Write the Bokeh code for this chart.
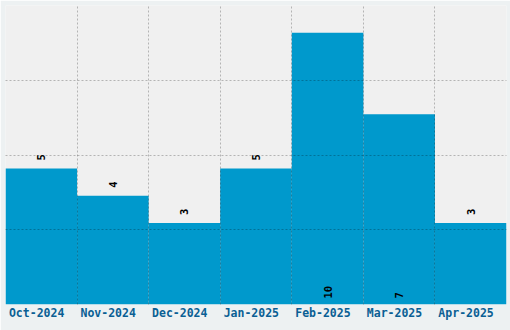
from math import pi
from bokeh.plotting import figure
from bokeh.models import ColumnDataSource, FixedTicker, Range1d
from bokeh.core.properties import value
from bokeh.embed import file_html
from bokeh.resources import INLINE

months = ["Oct-2024", "Nov-2024", "Dec-2024", "Jan-2025", "Feb-2025", "Mar-2025", "Apr-2025"]
counts = [5, 4, 3, 5, 10, 7, 3]
y_max = 11
y_ticks = [0, 2.75, 5.5, 8.25, 11]

n = len(months)
xs = list(range(n))
inside = [c >= 0.6 * max(counts) for c in counts]
src = ColumnDataSource(dict(
    left=[i for i in xs],
    right=[i + 1 for i in xs],
    top=counts,
    bottom=[0] * n,
    xc=[i + 0.5 for i in xs],
    ly=[0 if ins else c for c, ins in zip(counts, inside)],
    loff=[-6 if ins else -8 for ins in inside],
    lbl=[str(c) for c in counts],
))

p = figure(width=510, height=330, output_backend="svg", toolbar_location=None,
           x_range=Range1d(0, n), y_range=Range1d(0, y_max),
           y_axis_location=None,
           min_border_left=5, min_border_right=4, min_border_top=5, min_border_bottom=26)
p.background_fill_color = "#f0f0f0"
p.border_fill_color = "#edf1f2"
p.outline_line_color = None

p.quad(left="left", right="right", top="top", bottom="bottom", source=src,
       fill_color="#0099cc", line_color=None)

p.text(x="xc", y="ly", text="lbl", source=src, angle=pi / 2, y_offset="loff",
       text_align="left", text_baseline="middle", text_color="black",
       text_font=value("DejaVu Sans Mono"), text_font_style="bold", text_font_size="10.5px")

shift = 0.065
p.xaxis.ticker = FixedTicker(ticks=[i + 0.5 - shift for i in xs])
p.xaxis.major_label_overrides = {i + 0.5 - shift: m for i, m in enumerate(months)}
p.xaxis.axis_line_color = None
p.xaxis.major_tick_line_color = None
p.xaxis.minor_tick_line_color = None
p.xaxis.major_tick_in = 0
p.xaxis.major_tick_out = 0
p.xaxis.major_label_standoff = 1
p.xaxis.major_label_text_font = "DejaVu Sans Mono"
p.xaxis.major_label_text_font_style = "bold"
p.xaxis.major_label_text_font_size = "11.5px"
p.xaxis.major_label_text_color = "#0a5f94"

p.xgrid.ticker = FixedTicker(ticks=list(range(1, n)))
p.ygrid.ticker = FixedTicker(ticks=y_ticks)
for g in (p.xgrid, p.ygrid):
    g.grid_line_color = "black"
    g.grid_line_alpha = 0.25
    g.grid_line_dash = "2 2"
    g.level = "overlay"

open("out.html", "w").write(file_html(p, INLINE))
